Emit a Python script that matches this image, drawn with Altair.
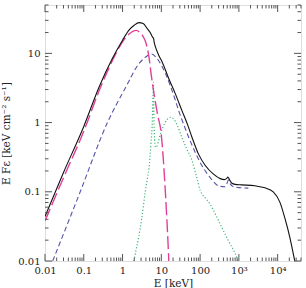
import altair as alt
import pandas as pd

# Total spectrum (solid black)
total_e = [0.01, 0.03, 0.1, 0.25, 0.55, 1.0, 1.5, 2.0, 2.65, 3.4, 4.3, 5.3, 6.0, 6.3, 6.5,
           7.1, 8.5, 10.5, 15.6, 23, 34, 48, 62, 91, 136, 222, 330, 420, 480, 520, 570,
           650, 800, 1175, 2600, 4700, 7700, 11400, 15300, 20600, 27600]
total_f = [0.044, 0.19, 0.88, 3.3, 8.5, 15.5, 22, 25.5, 27.8, 27, 23, 19.5, 17.0, 16.6, 14.8,
           12.3, 9.5, 7.5, 4.3, 2.6, 1.49, 0.92, 0.61, 0.35, 0.24, 0.18, 0.155, 0.15, 0.155,
           0.163, 0.15, 0.134, 0.128, 0.126, 0.122, 0.114, 0.1, 0.071, 0.042, 0.022, 0.01]

# Disc component (long dashes, magenta)
disc_e = [0.01, 0.03, 0.1, 0.25, 0.55, 0.99, 1.47, 1.9, 2.26, 2.8, 3.4, 3.94, 4.8, 5.6,
          6.8, 8.3, 9.7, 10.5, 12.8, 14.9, 15.6]
disc_f = [0.038, 0.16, 0.75, 2.9, 7.9, 14.6, 19, 21, 21.5, 20, 17.5, 14.6, 8.85, 4.5,
          2.2, 1.19, 0.77, 0.49, 0.093, 0.018, 0.01]

# Comptonised component (short dashes, blue)
compt_e = [0.0158, 0.081, 0.407, 1.21, 2.65, 3.94, 5.6, 7.8, 12.8, 23, 28, 34, 51, 75,
           111, 182, 297, 443, 500, 537, 600, 725, 1000, 1750]
compt_f = [0.01, 0.1, 1.0, 3.25, 7.1, 8.85, 9.8, 8.4, 5.1, 2.1, 1.49, 1.1, 0.61, 0.37,
           0.24, 0.16, 0.122, 0.118, 0.135, 0.148, 0.13, 0.118, 0.115, 0.113]

# Reflection component with Fe line (dotted, green)
refl_e = [1.97, 2.2, 2.6, 3.1, 3.85, 4.4, 4.8, 5.4, 5.9, 6.1, 6.25, 6.4, 6.6, 7.1, 7.6,
          8.5, 10, 12.5, 15, 17.2, 20, 25, 34, 45, 62, 80, 101, 140, 182, 250, 330, 537,
          880, 950]
refl_f = [0.01, 0.014, 0.022, 0.04, 0.1, 0.16, 0.22, 0.5, 1.2, 2.5, 3.8, 1.5, 0.7, 0.44,
          0.45, 0.55, 0.75, 1.0, 1.15, 1.19, 1.15, 0.95, 0.61, 0.42, 0.28, 0.17, 0.104,
          0.08, 0.066, 0.047, 0.034, 0.0196, 0.0113, 0.01]

# Axis ticks and labels
x_major = [0.01, 0.1, 1, 10, 100, 1e3, 1e4]
x_labels = ["0.01", "0.1", "1", "10", "100", "10³", "10⁴"]
x_minor = [m * 10.0 ** k for k in range(-2, 5) for m in range(2, 10) if m * 10.0 ** k <= 4e4]
y_major = [0.01, 0.1, 1, 10]
y_labels = ["0.01", "0.1", "1", "10"]
y_minor = [m * 10.0 ** k for k in range(-2, 2) for m in range(2, 10) if m * 10.0 ** k <= 50]

W, H = 256, 256
FONT = "DejaVu Serif"
FRAME = "#555555"
TEXT = "#222222"

xscale = alt.Scale(type="log", domain=[0.01, 4e4], nice=False)
yscale = alt.Scale(type="log", domain=[0.01, 50], nice=False)


def lbl_expr(labels, offset):
    arr = ",".join("'" + s + "'" for s in labels)
    return f"[{arr}][round(log(datum.value)/LN10)+{offset}]"


x_axis = alt.Axis(values=x_major, labelExpr=lbl_expr(x_labels, 2), ticks=False, domain=False,
                  grid=False, labelFont=FONT, labelFontSize=10, labelColor=TEXT,
                  labelPadding=4, title="E [keV]", titleFont=FONT, titleFontSize=10.5,
                  titleFontWeight="normal", titleColor=TEXT, titlePadding=3,
                  labelFlush=False)
y_axis = alt.Axis(values=y_major, labelExpr=lbl_expr(y_labels, 2), ticks=False, domain=False,
                  grid=False, labelFont=FONT, labelFontSize=10, labelColor=TEXT,
                  labelPadding=5, title="E Fε [keV cm⁻² s⁻¹]", titleFont=FONT,
                  titleFontSize=10.5, titleFontWeight="normal", titleColor=TEXT,
                  titlePadding=6, labelFlush=False)


def curve(e, f, color, width, dash=None):
    kw = dict(color=color, strokeWidth=width, interpolate="monotone", clip=True)
    if dash:
        kw["strokeDash"] = dash
    df = pd.DataFrame({"E": e, "F": f})
    return alt.Chart(df).mark_line(**kw).encode(
        x=alt.X("E:Q", scale=xscale, axis=x_axis),
        y=alt.Y("F:Q", scale=yscale, axis=y_axis),
    )


def xticks(vals, length):
    df = pd.DataFrame({"E": vals})
    base = alt.Chart(df).mark_rule(color=FRAME, strokeWidth=1)
    bottom = base.encode(x=alt.X("E:Q", scale=xscale, axis=x_axis),
                         y=alt.value(H), y2=alt.value(H - length))
    top = base.encode(x=alt.X("E:Q", scale=xscale, axis=x_axis),
                      y=alt.value(0), y2=alt.value(length))
    return [bottom, top]


def yticks(vals, length):
    df = pd.DataFrame({"F": vals})
    base = alt.Chart(df).mark_rule(color=FRAME, strokeWidth=1)
    left = base.encode(y=alt.Y("F:Q", scale=yscale, axis=y_axis),
                       x=alt.value(0), x2=alt.value(length))
    right = base.encode(y=alt.Y("F:Q", scale=yscale, axis=y_axis),
                        x=alt.value(W), x2=alt.value(W - length))
    return [left, right]


layers = (
    [
        curve(refl_e, refl_f, "#3cb878", 1.2, [1.2, 2]),
        curve(compt_e, compt_f, "#5555a8", 1.1, [5, 3]),
        curve(disc_e, disc_f, "#e0409a", 1.4, [13, 4]),
        curve(total_e, total_f, "#111111", 1.1),
    ]
    + xticks(x_major, 7) + xticks(x_minor, 3.5) + yticks(y_major, 7) + yticks(y_minor, 3.5)
)

chart = alt.layer(*layers).properties(
    width=W, height=H,
    padding={"left": 45, "top": 5, "right": 5, "bottom": 27},
    autosize=alt.AutoSizeParams(type="none"),
).configure_view(stroke=FRAME, strokeWidth=1).configure(background="white")

chart.save("out.html", embed_options={"renderer": "svg", "actions": False})
